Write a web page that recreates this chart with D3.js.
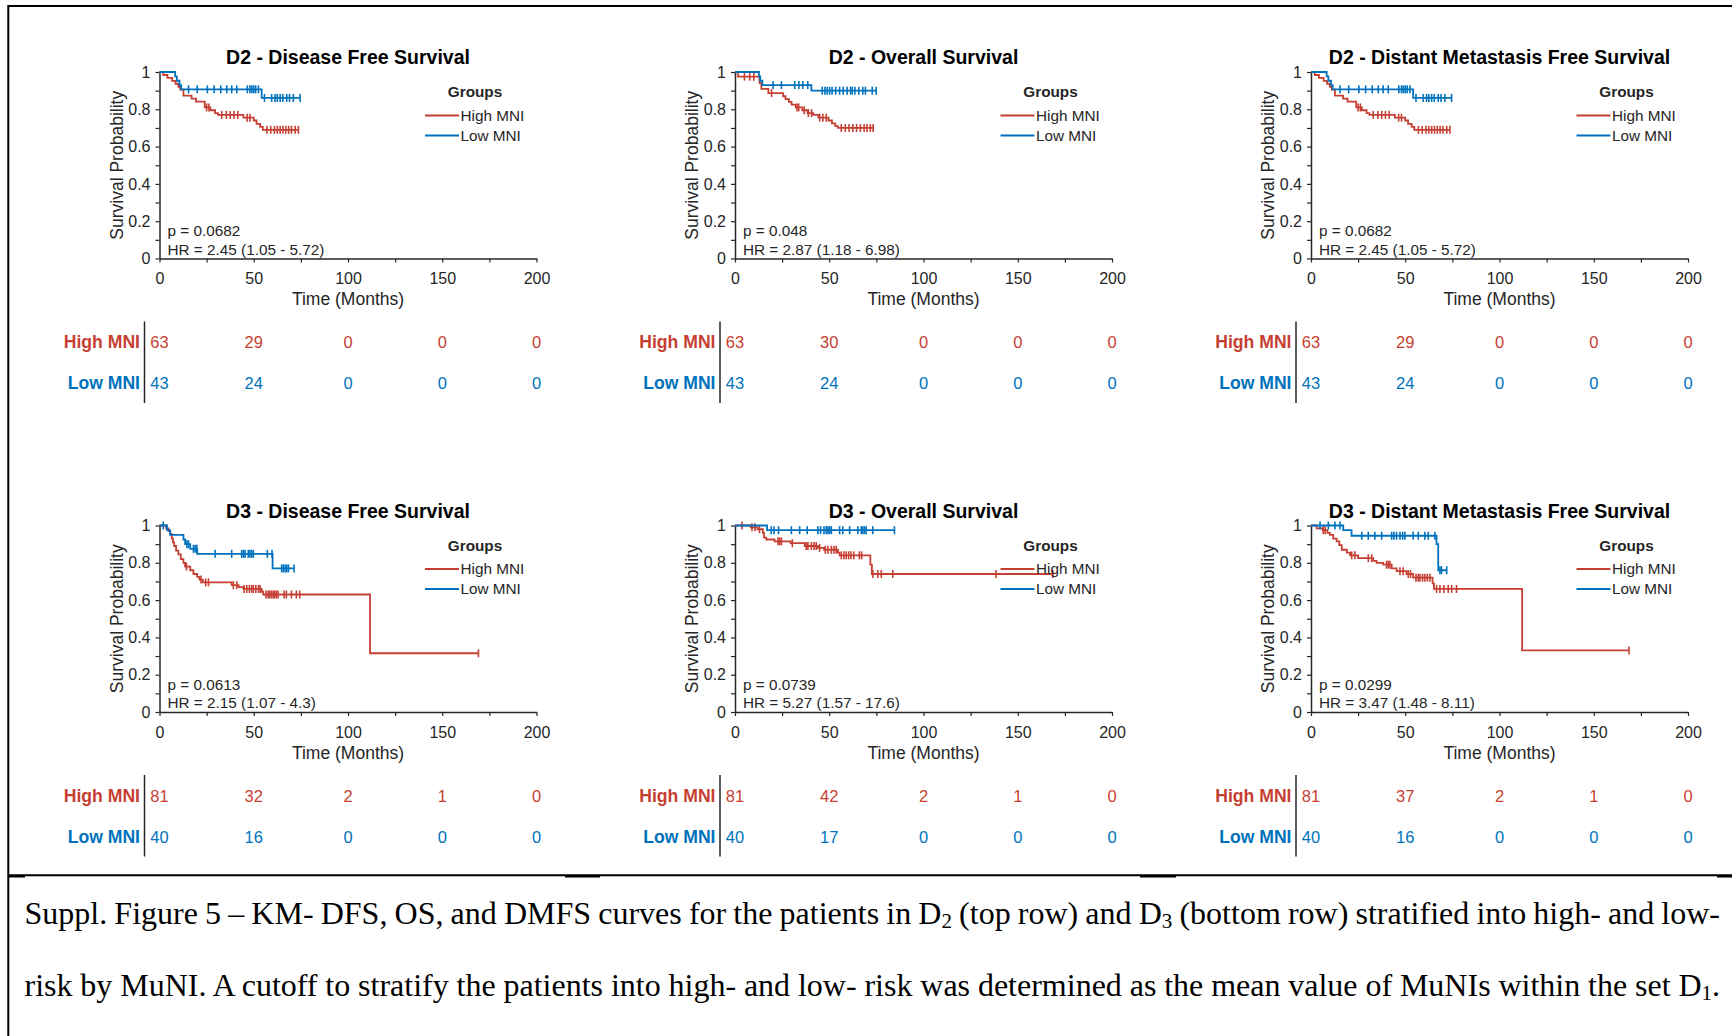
<!DOCTYPE html>
<html>
<head>
<meta charset="utf-8">
<script src="https://cdn.jsdelivr.net/npm/d3@7"></script>
<style>
  body { margin: 0; background: #fff; }
  svg { display: block; }
</style>
</head>
<body>
<svg id="fig" width="1732" height="1036"></svg>
<script>
// ---------- data ----------
const titles = [
  'D2 - Disease Free Survival', 'D2 - Overall Survival', 'D2 - Distant Metastasis Free Survival',
  'D3 - Disease Free Survival', 'D3 - Overall Survival', 'D3 - Distant Metastasis Free Survival'
];
const pValues = ['0.0682', '0.048', '0.0682', '0.0613', '0.0739', '0.0299'];
const hrValues = ['2.45 (1.05 - 5.72)', '2.87 (1.18 - 6.98)', '2.45 (1.05 - 5.72)',
                  '2.15 (1.07 - 4.3)', '5.27 (1.57 - 17.6)', '3.47 (1.48 - 8.11)'];
const groupNames = ['High MNI', 'Low MNI'];
const riskTimes = [0, 50, 100, 150, 200];
const riskHigh = [[63, 29, 0, 0, 0], [63, 30, 0, 0, 0], [63, 29, 0, 0, 0],
                  [81, 32, 2, 1, 0], [81, 42, 2, 1, 0], [81, 37, 2, 1, 0]];
const riskLow = [[43, 24, 0, 0, 0], [43, 24, 0, 0, 0], [43, 24, 0, 0, 0],
                 [40, 16, 0, 0, 0], [40, 17, 0, 0, 0], [40, 16, 0, 0, 0]];

// KM steps: [time, survival after the event]; censor times
const d2dfsHighSteps = [[0, 1], [2, 0.984], [4.2, 0.968], [6.7, 0.952], [8.5, 0.937], [10, 0.921], [11, 0.905],
  [12.7, 0.873], [17, 0.857], [19.4, 0.841], [24, 0.81], [27, 0.795], [29.5, 0.78], [31, 0.77],
  [44.5, 0.755], [50, 0.74], [51.5, 0.722], [53.4, 0.706], [54.8, 0.69]];
const d2dfsHighCens = [25, 26.2, 33, 35.5, 37.5, 39.5, 41.5, 46.5, 48, 57, 59, 61, 62.5, 64, 65.5, 67, 68.5, 70, 72, 73.7];
const d2dfsLowSteps = [[0, 1], [8.3, 0.977], [9.2, 0.953], [10.6, 0.93], [11.5, 0.907], [54.2, 0.861]];
const d2dfsLowCens = [15.4, 20, 25.4, 29, 32.5, 35.7, 38.3, 41, 46.6, 48, 49, 50, 51, 52.5,
  55.7, 59.5, 61.3, 62.5, 64, 65.4, 67.5, 69, 71, 74.6];

const d2osHighSteps = [[0, 1], [1.6, 0.975], [13, 0.94], [14, 0.91], [17.7, 0.887], [25.5, 0.87], [26.8, 0.855],
  [28.6, 0.84], [30, 0.825], [32.2, 0.81], [35.7, 0.795], [38.5, 0.78], [41.5, 0.77], [44.3, 0.755],
  [49.6, 0.74], [51.4, 0.725], [53.2, 0.71], [54.6, 0.7]];
const d2osHighCens = [5, 7.8, 10, 19.4, 32.9, 33.8, 36.7, 38.9, 40.6, 44.9, 46.6, 48.4,
  56.4, 58.5, 60.5, 62.5, 64.5, 66.5, 68.5, 70, 71.8, 73.3];
const d2osLowSteps = [[0, 1], [12.7, 0.977], [13.4, 0.953], [14.5, 0.93], [40.5, 0.9]];
const d2osLowCens = [20.2, 24.6, 31.7, 33.9, 36, 38.6, 46.3, 47.7, 48.9, 50.2, 51.5, 53.4, 55.5, 57.4,
  59.5, 61.3, 62.2, 63.6, 65.7, 67.8, 69.2, 72.8, 74.9];

// D2 DMFS is drawn identically to D2 DFS in the figure
const d2dmfsHighSteps = d2dfsHighSteps;
const d2dmfsHighCens = d2dfsHighCens;
const d2dmfsLowSteps = d2dfsLowSteps;
const d2dmfsLowCens = d2dfsLowCens;

const d3dfsHighSteps = [[0, 1], [3.5, 0.985], [4.8, 0.97], [5.7, 0.955], [6.5, 0.93], [7.1, 0.91], [7.8, 0.89],
  [8.8, 0.865], [10, 0.845], [11.3, 0.82], [12.7, 0.8], [13.6, 0.78], [16.3, 0.76], [18, 0.74],
  [20, 0.725], [21.2, 0.71], [23, 0.695], [38.3, 0.68], [42, 0.67], [44.5, 0.66], [54.2, 0.645],
  [55, 0.63], [111.7, 0.315]];
const d3dfsHighCens = [14.3, 22, 24.5, 26, 39.2, 41, 44.9, 46.3, 47.7, 48.9, 49.8, 51.1, 52.5, 53.4,
  56.5, 57.6, 58.5, 59.4, 60.3, 61.1, 62, 62.9, 66.1, 67.3, 70, 72.6, 74.4, 169.2];
const d3dfsLowSteps = [[0, 1], [4, 0.975], [5.6, 0.95], [12.7, 0.925], [13.6, 0.9], [16.3, 0.875], [20, 0.848], [60, 0.77]];
const d3dfsLowCens = [2, 14.5, 15.4, 18, 18.9, 19.8, 29.5, 38.3, 43.6, 44.5, 45.4, 47.1, 48, 48.9, 49.8, 57.2, 59.7,
  64.8, 65.7, 66.6, 67.5, 68.4, 71.4];

const d3osHighSteps = [[0, 1], [8.3, 0.99], [12, 0.98], [14.8, 0.96], [15.4, 0.935], [16.6, 0.925], [21, 0.915],
  [29.5, 0.905], [37, 0.89], [44, 0.88], [47.3, 0.87], [54.6, 0.855], [55.5, 0.84], [71.8, 0.79], [72.6, 0.74]];
const d3osHighCens = [3.7, 9, 10.6, 13, 22.8, 23.7, 24.6, 30.4, 37.8, 38.7, 40.5, 41.9, 43.1, 44.9, 47.9, 49.3,
  51.1, 52.5, 53.7, 56.4, 57.8, 59, 60.3, 61.5, 63, 66, 67.2, 73.1, 75.8, 77.6, 83.7, 138.5, 168.6];
const d3osLowSteps = [[0, 1], [17, 0.975]];
const d3osLowCens = [19.2, 20.7, 23.1, 29.9, 34.3, 38.3, 44, 45.4, 47.2, 48.4, 49.3, 50.2, 51.1, 55.5, 57.2,
  60.8, 65.2, 67, 67.8, 68.7, 69.6, 73.1, 84.6];

const d3dmfsHighSteps = [[0, 1], [3, 0.985], [6.2, 0.975], [8.7, 0.96], [10, 0.95], [11.8, 0.93], [13.6, 0.915],
  [15, 0.895], [16.3, 0.87], [19, 0.855], [20.7, 0.84], [25, 0.825], [33, 0.81], [34.8, 0.8], [38.3, 0.79],
  [42.8, 0.77], [45.4, 0.755], [50.7, 0.74], [54.2, 0.72], [64.5, 0.69], [65.2, 0.66], [112, 0.33]];
const d3dmfsHighCens = [6.5, 7.5, 21.6, 23.3, 30.4, 32.2, 40.1, 41, 41.9, 47.2, 48.9, 51.6, 52.8, 55.7, 56.9,
  57.8, 59.2, 60.4, 61.7, 63.1, 66.6, 68.4, 70.5, 72.8, 74.6, 77.2, 168.7];
const d3dmfsLowSteps = [[0, 1], [17.1, 0.975], [21.5, 0.945], [66.6, 0.9], [67.5, 0.76]];
const d3dmfsLowCens = [4.8, 9.2, 12.7, 15.4, 26.9, 30.4, 33.9, 37.5, 42.8, 44, 45.4, 47.2, 48.6, 49.8, 54.2,
  56.9, 60.4, 62.2, 65.7, 68.4, 69.2, 72];

const highSteps = [d2dfsHighSteps, d2osHighSteps, d2dmfsHighSteps, d3dfsHighSteps, d3osHighSteps, d3dmfsHighSteps];
const highCens = [d2dfsHighCens, d2osHighCens, d2dmfsHighCens, d3dfsHighCens, d3osHighCens, d3dmfsHighCens];
const lowSteps = [d2dfsLowSteps, d2osLowSteps, d2dmfsLowSteps, d3dfsLowSteps, d3osLowSteps, d3dmfsLowSteps];
const lowCens = [d2dfsLowCens, d2osLowCens, d2dmfsLowCens, d3dfsLowCens, d3osLowCens, d3dmfsLowCens];

const captionLines = [
  [['Suppl. Figure 5 \u2013 KM- DFS, OS, and DMFS curves for the patients in D', false], ['2', true],
   [' (top row) and D', false], ['3', true], [' (bottom row) stratified into high- and low-', false]],
  [['risk by MuNI. A cutoff to stratify the patients into high- and low- risk was determined as the mean value of MuNIs within the set D', false],
   ['1', true], ['.', false]]
];

// ---------- layout ----------
const colX = [159.5, 735, 1311];
const rowY = [72, 525.5];
const W = 377, H = 186.5;
const red = '#c63f33', blue = '#0072bd', ink = '#262626';
const sans = '"Liberation Sans", Arial, Helvetica, sans-serif';
const serif = '"Liberation Serif", "Times New Roman", serif';

const svg = d3.select('#fig');

// figure frame (left + top border, rule under the charts)
svg.append('path')
  .attr('d', 'M8.3,1036V6H1732')
  .attr('fill', 'none').attr('stroke', '#000').attr('stroke-width', 2);
svg.append('line')
  .attr('x1', 8).attr('x2', 1732).attr('y1', 875.3).attr('y2', 875.3)
  .attr('stroke', '#000').attr('stroke-width', 2);
[[9, 25], [565, 600], [1140, 1176], [1717, 1732]].forEach(s => {
  svg.append('rect').attr('x', s[0]).attr('y', 875.5).attr('width', s[1] - s[0]).attr('height', 2).attr('fill', '#000');
});

function survAt(steps, t) {
  let s = 1;
  steps.forEach(d => { if (d[0] <= t) s = d[1]; });
  return s;
}

function drawCurve(g, x, y, steps, cens, color) {
  const end = d3.max(cens);
  const pts = steps.concat([[end, steps[steps.length - 1][1]]]);
  const line = d3.line().x(d => x(d[0])).y(d => y(d[1])).curve(d3.curveStepAfter);
  g.append('path').datum(pts)
    .attr('d', line)
    .attr('fill', 'none').attr('stroke', color).attr('stroke-width', 1.8);
  g.selectAll(null).data(cens).enter().append('line')
    .attr('x1', d => x(d)).attr('x2', d => x(d))
    .attr('y1', d => y(survAt(steps, d)) - 4).attr('y2', d => y(survAt(steps, d)) + 4)
    .attr('stroke', color).attr('stroke-width', 1.6);
}

function drawPanel(i) {
  const c = i % 3, r = Math.floor(i / 3);
  const g = svg.append('g').attr('transform', `translate(${colX[c]},${rowY[r]})`);
  const x = d3.scaleLinear().domain([0, 200]).range([0, W]);
  const y = d3.scaleLinear().domain([0, 1]).range([H, 0]);

  // axes
  const xAxis = d3.axisBottom(x)
    .tickValues(d3.range(0, 201, 25))
    .tickFormat(d => d % 50 === 0 ? d : '')
    .tickSize(4).tickPadding(10.5).tickSizeOuter(0);
  const yAxis = d3.axisLeft(y)
    .tickValues(d3.range(0, 11).map(k => k / 10))
    .tickFormat(d => {
      const k = Math.round(d * 10);
      if (k % 2) return '';
      return k === 0 ? '0' : k === 10 ? '1' : d.toFixed(1);
    })
    .tickSize(4).tickPadding(5).tickSizeOuter(0);

  [g.append('g').attr('transform', `translate(0,${H})`).call(xAxis),
   g.append('g').call(yAxis)].forEach(a => {
    a.select('.domain').attr('stroke', ink).attr('stroke-width', 1.5);
    a.selectAll('.tick line').attr('stroke', ink).attr('stroke-width', 1.2);
    a.selectAll('.tick text').attr('fill', ink).style('font-family', sans).style('font-size', '16px');
  });

  // curves
  drawCurve(g, x, y, highSteps[i], highCens[i], red);
  drawCurve(g, x, y, lowSteps[i], lowCens[i], blue);

  // title and axis labels
  g.append('text').attr('x', W / 2).attr('y', -8)
    .attr('text-anchor', 'middle').attr('fill', '#000')
    .style('font-family', sans).style('font-size', '19.5px').style('font-weight', 'bold')
    .text(titles[i]);
  g.append('text').attr('x', W / 2).attr('y', H + 46.5)
    .attr('text-anchor', 'middle').attr('fill', ink)
    .style('font-family', sans).style('font-size', '17.5px')
    .text('Time (Months)');
  g.append('text').attr('transform', `translate(-43,${H / 2}) rotate(-90)`)
    .attr('text-anchor', 'middle').attr('dominant-baseline', 'central').attr('fill', ink)
    .style('font-family', sans).style('font-size', '17.5px')
    .text('Survival Probability');

  // p value / hazard ratio
  g.append('text').attr('x', 8).attr('y', H - 22.5).attr('fill', ink)
    .style('font-family', sans).style('font-size', '15.3px')
    .text('p = ' + pValues[i]);
  g.append('text').attr('x', 8).attr('y', H - 4).attr('fill', ink)
    .style('font-family', sans).style('font-size', '15.3px')
    .text('HR = ' + hrValues[i]);

  // legend
  const lg = g.append('g');
  lg.append('text').attr('x', 315.5).attr('y', 25).attr('text-anchor', 'middle').attr('fill', ink)
    .style('font-family', sans).style('font-size', '15.3px').style('font-weight', 'bold')
    .text('Groups');
  [red, blue].forEach((col, k) => {
    const ly = 43.5 + k * 20;
    lg.append('line').attr('x1', 265.5).attr('x2', 299.5).attr('y1', ly).attr('y2', ly)
      .attr('stroke', col).attr('stroke-width', 1.8);
    lg.append('text').attr('x', 301).attr('y', ly + 5.3).attr('fill', ink)
      .style('font-family', sans).style('font-size', '15.3px')
      .text(groupNames[k]);
  });

  // number-at-risk table
  const rows = [[riskHigh[i], red, H + 89.8], [riskLow[i], blue, H + 130.8]];
  rows.forEach((row, k) => {
    g.append('text').attr('x', -19.5).attr('y', row[2]).attr('text-anchor', 'end').attr('fill', row[1])
      .style('font-family', sans).style('font-size', '17.6px').style('font-weight', 'bold')
      .text(groupNames[k]);
    g.selectAll(null).data(row[0]).enter().append('text')
      .attr('x', (d, j) => x(riskTimes[j])).attr('y', row[2])
      .attr('text-anchor', 'middle').attr('fill', row[1])
      .style('font-family', sans).style('font-size', '16.5px')
      .text(d => d);
  });
  g.append('line').attr('x1', -15).attr('x2', -15).attr('y1', H + 63).attr('y2', H + 144.5)
    .attr('stroke', ink).attr('stroke-width', 1.5);
}

d3.range(6).forEach(drawPanel);

// caption, justified between the margins
const capLeft = 24.5, capRight = 1720;
[924, 996].forEach((base, li) => {
  const t = svg.append('text').attr('x', capLeft).attr('y', base).attr('fill', '#000')
    .style('font-family', serif).style('font-size', '32px');
  let shift = 0;
  captionLines[li].forEach(part => {
    if (part[1]) {
      t.append('tspan').attr('dy', 4 - shift).style('font-size', '21px').text(part[0]);
      shift = 4;
    } else {
      t.append('tspan').attr('dy', -shift).text(part[0]);
      shift = 0;
    }
  });
  const natural = t.node().getComputedTextLength();
  const spaces = captionLines[li].map(p => p[0]).join('').split(' ').length - 1;
  t.style('word-spacing', ((capRight - capLeft - natural) / spaces) + 'px');
});
</script>
</body>
</html>
